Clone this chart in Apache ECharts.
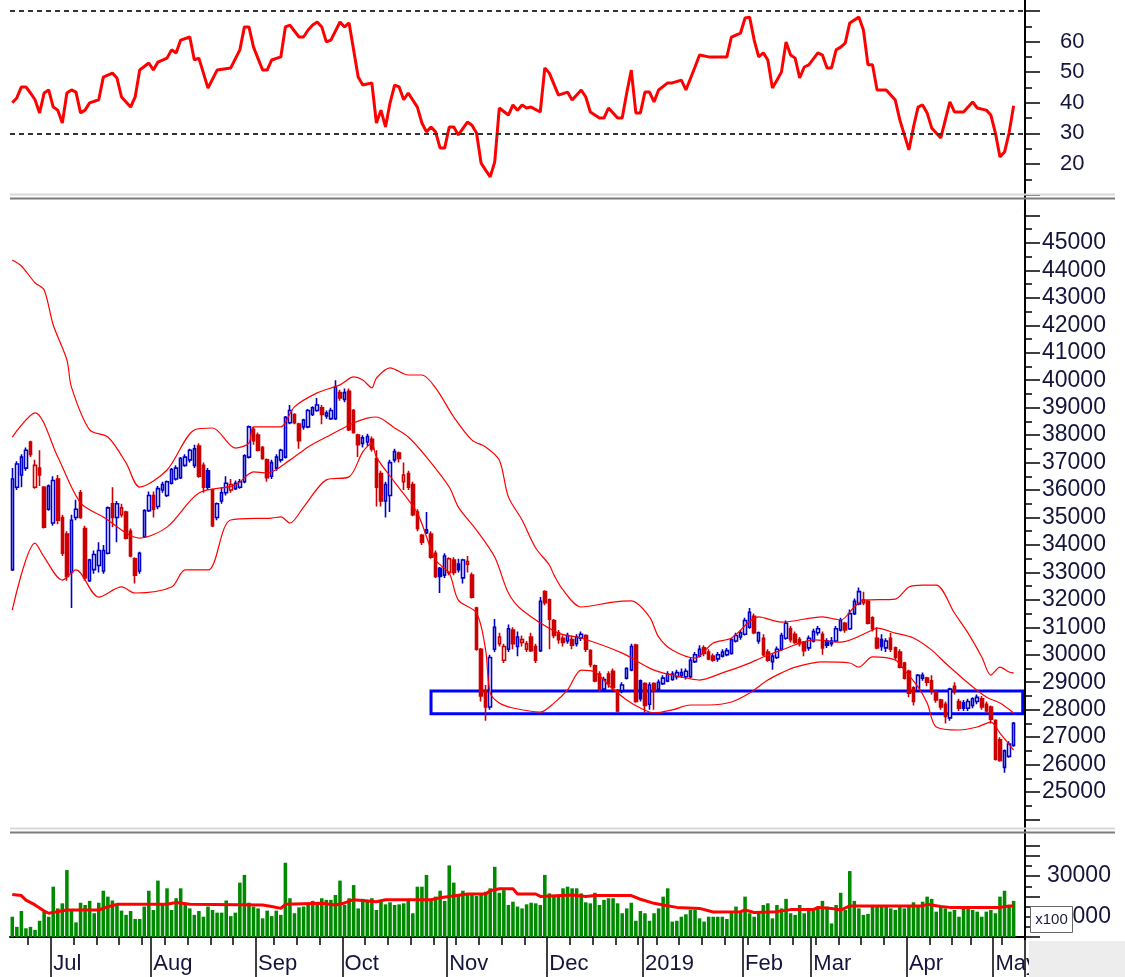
<!DOCTYPE html>
<html>
<head>
<meta charset="utf-8">
<script src="https://cdn.jsdelivr.net/npm/echarts@6/dist/echarts.min.js"></script>
<style>
html, body { margin: 0; padding: 0; background: #fff; }
#main { width: 1125px; height: 977px; }
</style>
</head>
<body>
<div id="main"></div>
<script>
// trading calendar (weekdays minus exchange holidays)
const firstDay = '2018-06-19';
const lastDay = '2019-05-08';
const holidays = ['2018-09-03', '2019-01-01', '2019-02-04', '2019-02-05', '2019-02-06',
  '2019-02-07', '2019-02-08', '2019-04-15', '2019-04-29', '2019-04-30', '2019-05-01'];
const monthNames = ['2019', 'Feb', 'Mar', 'Apr', 'May', 'Jun', 'Jul', 'Aug', 'Sep', 'Oct', 'Nov', 'Dec'];

// daily prices
const opens = [
  33100, 36100, 36550, 36800, 37750, 36100, 36800, 36100, 35300,
  34800, 36400, 35000, 34400, 33000, 35000, 35900, 34600, 32700, 33100, 33250, 33050, 33700, 35500, 35000, 35100, 35200, 34500, 33500, 33050, 34300, 35250,
  35800, 35400, 36000, 35800, 36250, 36400, 36450, 36900, 37100, 36900, 37600, 36900, 36700, 36000, 35000, 35600, 35900, 36000, 36050, 36100, 36300, 37200, 38200,
  38000, 37550, 37100, 36500, 36800, 37100, 37200, 38450, 38750, 38400, 38300, 38300, 38750, 38900, 39000, 38700, 38600, 38600, 39550,
  39300, 39600, 38900, 38000, 37700, 37750, 37850, 37150, 36600, 35600, 35800, 37100, 37350, 36300, 36600, 36200, 35200, 34350, 34450, 34400, 33700, 33150, 32900,
  33000, 33450, 33300, 32800, 33300, 32900, 31700, 30200, 28700, 28100, 30200, 30400, 29800, 30200, 30900, 30300, 30450, 30200, 30650, 30300, 30150, 32300,
  32000, 31250, 30800, 30600, 30500, 30550, 30400, 30600, 30700, 30150, 29600, 29300, 28750, 29300, 29400, 28700, 28700, 29150, 29450, 30350, 29050,
  28950, 28200, 28950, 28750, 28950, 29050, 29100, 29200, 29250, 29200, 29200, 29750, 29950, 30250, 30100, 29950, 29850, 29950, 30000, 30050, 30500, 30650,
  30750, 31000, 31400, 30500, 30600, 30100, 29750, 29900, 30200, 30600, 30950, 30750, 30550, 30450, 30250,
  30500, 30800, 30750, 30500, 30500, 30500, 30900, 31150, 30950, 31500, 31850, 31900, 31950, 31350, 30600, 30550, 30250, 30600, 30250, 30100, 29700,
  29400, 28800, 28700, 29150, 29150, 29050, 28650, 28350, 28200, 27700, 28850, 28300, 28250, 28050, 28150, 28300, 28400, 28200, 28100,
  27600, 26900, 25900, 26300, 26700
];
const closes = [
  36400, 36950, 37200, 37450, 37300, 36900, 36550, 34650, 36150,
  36350, 34900, 33700, 32850, 34900, 35300, 35000, 32800, 33450, 33650, 33800, 33800, 35350, 35000, 35500, 35350, 34250, 33600, 32900, 33700, 35250, 35800,
  35300, 36050, 36200, 36300, 36750, 36800, 37150, 37200, 37450, 37500, 36500, 36100, 36100, 34700, 35500, 35900, 36250, 36200, 36250, 36300, 37250, 38300, 37800,
  37450, 37150, 36450, 37000, 37200, 37450, 38650, 38900, 38450, 37800, 38550, 38900, 39000, 39100, 38750, 38800, 38900, 39750, 39350,
  39550, 38200, 38100, 37650, 37900, 37950, 37500, 36100, 35600, 36200, 37000, 37400, 37150, 36550, 36100, 35100, 34600, 34100, 34550, 33550, 32850, 32850, 33600,
  33500, 33000, 33100, 33450, 33400, 32100, 30200, 28500, 28100, 29900, 31000, 30650, 30300, 30950, 30400, 30650, 30550, 30400, 30150, 29800, 31950, 31900,
  31300, 30700, 30550, 30450, 30700, 30350, 30650, 30750, 30200, 29650, 29050, 28750, 29100, 28950, 28800, 27950, 28900, 29500, 30300, 28300, 28400,
  28150, 28900, 28700, 29000, 29150, 29300, 29300, 29350, 29350, 29400, 29800, 30000, 30200, 30050, 29850, 29800, 30000, 30100, 30150, 30550, 30700, 30800,
  31250, 31550, 30800, 30800, 30000, 29800, 29950, 30200, 30700, 31150, 30550, 30450, 30400, 30150, 30600,
  30850, 30950, 30250, 30350, 30400, 30950, 31250, 30900, 31500, 31950, 32300, 32000, 31150, 30950, 30250, 30300, 30500, 30200, 29900, 29550, 29150,
  28600, 28300, 29250, 29250, 29000, 28700, 28350, 28100, 27750, 28750, 28650, 28050, 28050, 28300, 28400, 28450, 28100, 27950, 27650,
  26200, 26150, 26500, 26750, 27500
];
const lows = [
  33050, 36000, 36100, 36700, 37200, 36050, 36150, 34600, 35250,
  34700, 34750, 33600, 32700, 31700, 34900, 34950, 32700, 32650, 32950, 33000, 32950, 33650, 34650, 34100, 35000, 34200, 33550, 32600, 32950, 34250, 35200,
  35000, 35300, 35900, 35750, 36200, 36350, 36400, 36850, 37000, 36800, 36450, 35900, 36000, 34650, 34900, 35500, 35800, 35900, 36000, 36050, 36250, 37150, 37650,
  37400, 37100, 36300, 36400, 36700, 37000, 37150, 38400, 38400, 37500, 38200, 38250, 38700, 38850, 38400, 38600, 38550, 38550, 39250,
  39200, 38150, 38050, 37200, 37550, 37600, 37400, 35400, 35400, 35000, 35200, 37000, 37000, 36000, 36000, 35050, 34500, 34000, 34400, 33500, 32800, 32250, 32800,
  32900, 32900, 33000, 32600, 33000, 32050, 30150, 28300, 27600, 28000, 30100, 30300, 29700, 30100, 30200, 29950, 30300, 30100, 30100, 29700, 30100, 31800,
  30200, 30600, 30400, 30300, 30400, 30200, 30300, 30500, 30100, 29550, 29000, 28650, 28650, 28800, 28700, 27900, 28600, 29100, 29400, 28250, 28300,
  27900, 28000, 28000, 28650, 28900, 29000, 29050, 29100, 29150, 29100, 29150, 29700, 29900, 29950, 29800, 29750, 29750, 29900, 29950, 30000, 30450, 30550,
  30700, 30950, 30750, 30400, 29950, 29750, 29450, 29850, 30150, 30550, 30450, 30400, 30300, 29950, 30150,
  30450, 30700, 30000, 30250, 30300, 30450, 30850, 30800, 30900, 31450, 31800, 31800, 31100, 30850, 30200, 30150, 30100, 30100, 29800, 29500, 29100,
  28450, 28150, 28650, 29050, 28850, 28550, 28250, 28000, 27500, 27600, 28550, 27950, 27950, 27950, 28050, 28200, 28000, 27900, 27500,
  26150, 26100, 25700, 26250, 26650
];
const highs = [
  36800, 37050, 37300, 37550, 37800, 37100, 37450, 36150, 36200,
  36500, 36550, 35100, 34500, 35100, 35650, 36000, 34700, 33500, 33800, 34100, 34000, 35400, 36100, 35600, 35500, 35250, 34600, 33550, 33750, 35300, 35950,
  35950, 36150, 36300, 36350, 36800, 36900, 37200, 37300, 37500, 37650, 37700, 37000, 36800, 36050, 35550, 36100, 36500, 36400, 36350, 36400, 37300, 38350, 38300,
  38100, 37600, 37150, 37100, 37300, 37500, 38700, 39100, 38800, 38450, 38600, 38950, 39050, 39350, 39100, 38900, 39000, 40000, 39650,
  39700, 39700, 38950, 38050, 38000, 38050, 37950, 37450, 36700, 36300, 37100, 37500, 37400, 37000, 36700, 36300, 35300, 34400, 35200, 34500, 33800, 33200, 33700,
  33550, 33550, 33500, 33500, 33600, 33000, 31750, 30250, 28900, 30000, 31300, 30800, 30400, 31100, 31000, 30850, 30700, 30500, 30800, 30400, 32100, 32350,
  32050, 31300, 30900, 30700, 30800, 30700, 30750, 30850, 30750, 30200, 29650, 29400, 29200, 29400, 29500, 28750, 29000, 29550, 30400, 30400, 29100,
  29000, 29000, 29000, 29100, 29250, 29400, 29400, 29450, 29500, 29500, 29900, 30100, 30350, 30350, 30200, 30050, 30100, 30200, 30250, 30600, 30800, 30900,
  31350, 31700, 31500, 30850, 30750, 30200, 30050, 30300, 30800, 31250, 31050, 30850, 30650, 30500, 30700,
  30950, 31050, 30850, 30600, 30650, 31050, 31350, 31200, 31650, 32050, 32450, 32300, 32000, 31400, 31000, 30750, 30600, 30800, 30300, 30200, 29750,
  29450, 28850, 29300, 29350, 29200, 29250, 28700, 28400, 28300, 28800, 29000, 28400, 28350, 28400, 28450, 28550, 28500, 28300, 28150,
  27650, 27000, 26550, 26850, 27550
];

// volume (x100)
const volumes = [
  10000, 5000, 12800, 4300, 5000, 3500, 8000, 12500, 10000, 24800,
  14100, 16600, 33000, 13300, 7200, 16900, 15800, 17800, 11700, 16900,
  22800, 19900, 18000, 15800, 13000, 10900, 12800, 8900, 8900, 15000,
  22800, 13300, 27800, 15800, 24000, 13300, 19100, 24000, 15800, 14100,
  10900, 12800, 10000, 15000, 13300, 12000, 12000, 18000, 10300, 12000,
  26800, 30600, 16900, 15000, 14100, 9200, 13000, 10300, 13000, 10900,
  36600, 19100, 11700, 14600, 15000, 15800, 17800, 15800, 19100, 18300,
  18300, 20700, 27800, 15800, 19100, 25600, 14100, 18800, 17400, 19100,
  13300, 17400, 16100, 17100, 15800, 16100, 16600, 17800, 11700, 24800,
  24800, 30600, 18800, 19900, 22800, 17800, 35300, 26800, 20700, 22800,
  21500, 20700, 20200, 20700, 22300, 24000, 34600, 21800, 23100,
  15800, 17400, 15000, 14100, 16100, 16900, 16600, 15800, 30600, 21500,
  20700, 20700, 24000, 24800, 24000, 24000, 21500, 17100, 16600, 21800,
  15800, 18300, 19100, 19100, 16600, 11700, 14100, 16900, 8000, 12800,
  11700, 8000, 11700, 14100, 19900, 24000, 7600, 8000, 10000, 11200,
  13300, 13300, 9200, 7600, 10000, 10000, 10000, 10000, 8900, 12500,
  15000, 12500, 19900, 11700, 10000, 12500, 15800, 16600, 9200, 15800,
  14100, 18800, 11700, 10900, 15800, 11700, 13300, 13300, 14100, 17800,
  15000, 6700, 15800, 21800, 13300, 32500, 17800, 14100, 10900, 11400,
  15800, 15000, 15000, 15000, 14100, 13300, 15000, 14100, 15000, 17100,
  15000, 17400, 19900, 18800, 12500, 15000, 14100, 12500, 13300, 10000,
  14100, 15000, 13300, 12500, 10000, 12500, 13300, 11700, 19900, 22800,
  15800, 17800
];

// volume moving average, read at [day index, value]
const volumeMA = [[0, 21000], [2, 20400], [3, 18200], [5, 15800], [7, 12800], [8, 11700], [12, 13300], [19, 13300],
  [21, 14900], [23, 16100], [34, 16100], [36, 17000], [39, 16100], [55, 15800], [57, 15000], [59, 14100], [60, 16100],
  [68, 16600], [71, 15800], [73, 16800], [75, 18400], [80, 17400], [82, 18400], [92, 18400], [94, 19300], [96, 20000],
  [100, 21200], [104, 21200], [105, 22800], [107, 23800], [110, 23800], [111, 21200], [115, 21200], [116, 20000],
  [123, 20700], [126, 20000], [128, 20400], [136, 20400], [138, 18600], [141, 16600], [143, 15800], [146, 14600],
  [151, 14100], [154, 12300], [160, 12500], [161, 13300], [163, 12100], [168, 12500], [171, 13500], [176, 13500],
  [177, 14600], [180, 14100], [182, 13300], [184, 15300], [200, 15300], [201, 16100], [204, 15000], [206, 14600],
  [217, 14600], [219, 15300], [220, 15300]];

// RSI, read at [day index, value]
const rsi = [[0, 40], [1, 41.6], [2, 45.2], [3, 45.2], [4, 43.2], [5, 41], [6, 36.7], [7, 43.2], [8, 44.2], [9, 38.6],
  [10, 37.6], [11, 33.4], [12, 43.2], [13, 44.2], [14, 43.5], [15, 36.7], [16, 37.6], [17, 40], [19, 41], [20, 48.4],
  [22, 49.7], [23, 48.1], [24, 41.9], [26, 38.6], [27, 41.9], [28, 50.7], [30, 53], [31, 50.7], [32, 53.3], [34, 54.6],
  [35, 57.3], [36, 56.3], [37, 60.5], [39, 61.5], [40, 54], [41, 54.6], [43, 44.8], [45, 50.7], [48, 51.4], [50, 57.3],
  [51, 64.8], [52, 64.8], [53, 58.2], [55, 50.7], [56, 50.7], [57, 54], [59, 55], [60, 64.8], [61, 65.4], [63, 61.5],
  [64, 61.5], [65, 63.8], [66, 65.4], [67, 66.4], [68, 64.8], [69, 59.9], [70, 60.5], [72, 66.4], [73, 64.8], [74, 66.1],
  [76, 48.4], [77, 45.8], [79, 46.5], [80, 33.4], [81, 37.6], [82, 32.1], [83, 40], [84, 45.8], [85, 45.2], [86, 41],
  [87, 43.2], [89, 38.6], [90, 33.4], [91, 30.5], [92, 32.1], [93, 30.5], [94, 25.2], [95, 25.2], [96, 32.1], [97, 32.1],
  [98, 29.5], [100, 33.7], [101, 32.7], [102, 30.1], [103, 20.3], [104, 18], [105, 15.8], [106, 20.7], [107, 38.3],
  [109, 36], [110, 39.3], [111, 37.6], [112, 39.3], [113, 38.3], [114, 38.6], [116, 37], [117, 51.4], [118, 49.7],
  [120, 42.5], [122, 43.5], [123, 40.9], [125, 44.2], [126, 41.9], [127, 37], [129, 35], [130, 35], [131, 38.3],
  [133, 35], [134, 35], [135, 43.2], [136, 50.7], [137, 36.7], [138, 36.7], [139, 43.5], [140, 43.5], [141, 40.3],
  [142, 44.2], [144, 46.5], [145, 46.5], [147, 47.4], [148, 44.2], [150, 51.7], [151, 55.6], [153, 55], [157, 55],
  [158, 61.5], [160, 62.8], [161, 67.7], [162, 68], [163, 60.5], [164, 55], [165, 56.3], [166, 54], [167, 44.8],
  [168, 47.4], [169, 50.1], [170, 59.9], [171, 55.6], [172, 54.6], [173, 48.1], [174, 51.7], [175, 52.4], [177, 56.3],
  [178, 55.6], [179, 51.4], [180, 51.4], [181, 57.3], [182, 58.2], [183, 59.5], [184, 66.1], [186, 68], [187, 63.8],
  [188, 52.4], [189, 52.4], [190, 44.2], [192, 44.2], [194, 40.9], [195, 34.4], [197, 24.6], [198, 32.1], [199, 38.6],
  [200, 39.3], [201, 36.7], [202, 31.8], [204, 28.5], [205, 34.4], [206, 40.3], [207, 37], [209, 37], [211, 40.3],
  [212, 38.3], [214, 37.6], [215, 36], [216, 30.1], [217, 22.3], [218, 23.9], [219, 30.1], [220, 39]];
const rsiLevels = [70, 30];

// Bollinger bands, read at [day index, value]
const bbUpper = [[0, 44380], [2, 44160], [5, 43550], [7, 43290], [9, 42010], [12, 40740], [13, 39750], [17, 38190],
  [21, 37930], [25, 36990], [28, 36110], [34, 36730], [40, 38190], [44, 38260], [49, 37530], [52, 37710], [53, 38300],
  [57, 38300], [59, 38300], [62, 39030], [67, 39540], [72, 39830], [75, 40120], [77, 40010], [79, 39720], [80, 40080],
  [83, 40450], [87, 40190], [90, 40190], [93, 39720], [97, 38660], [101, 37820], [104, 37570], [107, 37090],
  [109, 35750], [112, 34910], [115, 33890], [118, 33270], [119, 32910], [121, 32360], [125, 31740], [132, 31920],
  [136, 31960], [140, 31380], [142, 30650], [145, 30170], [150, 29880], [154, 30430], [158, 30610], [164, 31380],
  [169, 31190], [178, 31380], [182, 31270], [185, 31740], [187, 31990], [194, 32030], [197, 32470], [200, 32540],
  [203, 32540], [207, 31520], [210, 30790], [213, 29920], [215, 29260], [217, 29550], [219, 29370], [220, 29340]];
const bbMiddle = [[0, 37930], [5, 38810], [10, 37200], [15, 35530], [20, 35020], [28, 34250], [34, 34650], [41, 35890],
  [49, 36180], [53, 36660], [56, 36620], [61, 37090], [65, 37570], [69, 37930], [75, 38440], [78, 38620], [80, 38660],
  [84, 38260], [87, 37930], [91, 37200], [96, 36110], [98, 35380], [102, 34540], [106, 33560], [109, 32250],
  [112, 31630], [120, 30790], [125, 30610], [134, 30060], [141, 29440], [147, 29190], [151, 29080], [156, 29340],
  [161, 29630], [165, 29920], [169, 30170], [176, 30540], [182, 30460], [189, 30900], [190, 30970], [194, 30790],
  [198, 30610], [202, 30170], [205, 29700], [210, 28970], [214, 28460], [217, 28240], [220, 27880]];
const bbLower = [[0, 31630], [5, 34070], [7, 33560], [11, 32720], [14, 33090], [19, 32100], [24, 32470], [27, 32250],
  [35, 32470], [38, 33090], [43, 33090], [48, 34910], [57, 34980], [59, 35020], [61, 34800], [64, 35380], [69, 36370],
  [74, 36480], [77, 37390], [79, 37710], [80, 37200], [84, 36290], [89, 35160], [93, 33450], [96, 32980], [98, 31990],
  [102, 31520], [104, 30170], [105, 28610], [107, 28240], [110, 28060], [116, 27910], [119, 28240], [122, 28720],
  [125, 29440], [128, 29370], [131, 28900], [135, 28350], [138, 28060], [141, 27880], [145, 27990], [149, 28170],
  [153, 28170], [158, 28280], [162, 28610], [166, 29080], [169, 29340], [172, 29550], [178, 29740], [184, 29700],
  [186, 29550], [189, 29920], [194, 29810], [196, 29440], [199, 28830], [201, 28240], [203, 27370], [208, 27260],
  [212, 27370], [215, 27550], [217, 27150], [220, 26530]];

// support zone box
const zoneStart = 92;
const zoneTop = 28680;
const zoneBottom = 27850;

function tradingDays() {
  const out = [];
  const d = new Date(firstDay + 'T00:00:00Z');
  const end = new Date(lastDay + 'T00:00:00Z');
  while (d <= end) {
    const wd = d.getUTCDay();
    const s = d.toISOString().slice(0, 10);
    if (wd !== 0 && wd !== 6 && holidays.indexOf(s) < 0) out.push(s);
    d.setUTCDate(d.getUTCDate() + 1);
  }
  return out;
}

const dates = tradingDays();
const categories = dates.concat(['', ' ']); // empty room before the price scale

function isMonthStart(i) {
  if (i <= 0 || i >= dates.length) return false;
  return dates[i].slice(0, 7) !== dates[i - 1].slice(0, 7);
}
function isWeekStart(i) {
  if (i <= 0 || i >= dates.length) return false;
  const a = new Date(dates[i - 1] + 'T00:00:00Z');
  const b = new Date(dates[i] + 'T00:00:00Z');
  return b.getUTCDay() < a.getUTCDay() || (b - a) >= 7 * 86400000;
}

const blue = '#0000c8';
const red = '#cc0000';
const candleData = opens.map(function (o, i) {
  const c = closes[i];
  const prev = i > 0 ? closes[i - 1] : o;
  const col = c >= prev ? blue : red;
  const fill = c > o ? '#ffffff' : col;
  return {
    value: [o, c, lows[i], highs[i]],
    itemStyle: { color: fill, color0: fill, borderColor: col, borderColor0: col }
  };
});

const font = 'Liberation Sans, Arial, sans-serif';
const labelColor = '#14143c';

function hiddenX(gridIndex) {
  return {
    type: 'category', gridIndex: gridIndex, data: categories,
    axisLine: { show: false }, axisTick: { show: false }, axisLabel: { show: false }, splitLine: { show: false }
  };
}
function rightAxis(gridIndex, min, max, interval, margin, fontSize) {
  return {
    type: 'value', gridIndex: gridIndex, position: 'right', min: min, max: max, interval: interval,
    axisLine: { show: true, lineStyle: { color: '#000', width: 2 } },
    axisTick: { show: true, length: 15, lineStyle: { color: '#000', width: 1.5 } },
    minorTick: { show: true, splitNumber: 2, length: 7, lineStyle: { color: '#000', width: 1.5 } },
    splitLine: { show: false },
    axisLabel: {
      margin: margin, fontSize: fontSize, fontFamily: font, color: labelColor,
      formatter: function (v) { return String(v); }
    }
  };
}

const rsiAxis = rightAxis(0, 10, 70, 10, 35, 22);
rsiAxis.axisLabel.showMinLabel = false;
rsiAxis.axisLabel.showMaxLabel = false;
const priceAxis = rightAxis(1, 24000, 46000, 1000, 17, 23);
priceAxis.axisLabel.showMinLabel = false;
priceAxis.axisLabel.showMaxLabel = false;
const volAxis = rightAxis(2, 0, 45000, 10000, 22, 23);
volAxis.axisLabel.formatter = function (v) { return (v === 10000 || v === 30000) ? String(v) : ''; };

const option = {
  animation: false,
  backgroundColor: '#ffffff',
  grid: [
    { left: 10, width: 1015, top: 11, height: 183.6 },
    { left: 10, width: 1015, top: 215.5, height: 604 },
    { left: 10, width: 1015, top: 845.7, height: 91.3 }
  ],
  xAxis: [
    hiddenX(0),
    hiddenX(1),
    {
      type: 'category', gridIndex: 2, data: categories,
      axisLine: { show: true, lineStyle: { color: '#000', width: 2 } },
      axisTick: { show: true, length: 8, interval: function (i) { return isWeekStart(i); }, lineStyle: { color: '#000', width: 1.5 } },
      axisLabel: { show: false }, splitLine: { show: false }
    },
    {
      type: 'category', gridIndex: 2, data: categories, position: 'bottom',
      axisLine: { show: false },
      axisTick: { show: true, length: 40, interval: function (i) { return isMonthStart(i); }, lineStyle: { color: '#000', width: 1.5 } },
      axisLabel: {
        show: true, interval: function (i) { return isMonthStart(i); },
        formatter: function (v) { return v.trim() ? monthNames[(+v.slice(5, 7)) - 1] : ''; },
        align: 'left', margin: 16, fontSize: 22, fontFamily: font, color: labelColor
      },
      splitLine: { show: false }
    }
  ],
  yAxis: [rsiAxis, priceAxis, volAxis],
  series: [
    {
      name: 'RSI', type: 'line', xAxisIndex: 0, yAxisIndex: 0, data: rsi,
      showSymbol: false, lineStyle: { color: '#ff0000', width: 3 },
      markLine: {
        silent: true, symbol: ['none', 'none'], label: { show: false },
        lineStyle: { color: '#333', width: 2, type: [5, 4] },
        data: rsiLevels.map(function (v) { return { yAxis: v }; })
      }
    },
    {
      name: 'Price', type: 'candlestick', xAxisIndex: 1, yAxisIndex: 1, data: candleData,
      barWidth: 3, itemStyle: { borderWidth: 1.6 },
      markArea: {
        silent: true, label: { show: false },
        itemStyle: { color: 'rgba(0,0,0,0)', borderColor: '#0000ff', borderWidth: 3 },
        data: [[{ xAxis: zoneStart, yAxis: zoneTop }, { xAxis: categories.length - 1, yAxis: zoneBottom }]]
      }
    },
    { name: 'BB upper', type: 'line', xAxisIndex: 1, yAxisIndex: 1, data: bbUpper, smooth: 0.3, showSymbol: false, lineStyle: { color: '#ff0000', width: 1.2 } },
    { name: 'BB middle', type: 'line', xAxisIndex: 1, yAxisIndex: 1, data: bbMiddle, smooth: 0.3, showSymbol: false, lineStyle: { color: '#ff0000', width: 1.2 } },
    { name: 'BB lower', type: 'line', xAxisIndex: 1, yAxisIndex: 1, data: bbLower, smooth: 0.3, showSymbol: false, lineStyle: { color: '#ff0000', width: 1.2 } },
    {
      name: 'Volume', type: 'bar', xAxisIndex: 2, yAxisIndex: 2, data: volumes,
      barCategoryGap: '22%', itemStyle: { color: '#008a00' }
    },
    {
      name: 'Volume MA', type: 'line', xAxisIndex: 2, yAxisIndex: 2, data: volumeMA,
      showSymbol: false, lineStyle: { color: '#ff0000', width: 3 }
    }
  ],
  graphic: [
    { type: 'line', z: 50, shape: { x1: 1025, y1: 0, x2: 1025, y2: 940 }, style: { stroke: '#000', lineWidth: 2 } },
    { type: 'line', z: 60, shape: { x1: 10, y1: 194.5, x2: 1115, y2: 194.5 }, style: { stroke: '#d8d8d8', lineWidth: 2 } },
    { type: 'line', z: 60, shape: { x1: 10, y1: 198.5, x2: 1115, y2: 198.5 }, style: { stroke: '#7c7c7c', lineWidth: 2 } },
    { type: 'line', z: 60, shape: { x1: 10, y1: 828.5, x2: 1115, y2: 828.5 }, style: { stroke: '#d8d8d8', lineWidth: 2 } },
    { type: 'line', z: 60, shape: { x1: 10, y1: 832.5, x2: 1115, y2: 832.5 }, style: { stroke: '#7c7c7c', lineWidth: 2 } },
    { type: 'rect', z: 40, shape: { x: 1029, y: 941, width: 96, height: 36 }, style: { fill: '#ededed' } },
    { type: 'rect', z: 70, shape: { x: 1030.5, y: 906.5, width: 42, height: 26 }, style: { fill: '#ffffff', stroke: '#666', lineWidth: 1 } },
    { type: 'text', z: 71, x: 1051.5, y: 920, style: { text: 'x100', font: '15px ' + font, fill: '#202040', align: 'center', verticalAlign: 'middle' } }
  ]
};

const chart = echarts.init(document.getElementById('main'));
chart.setOption(option);
</script>
</body>
</html>
